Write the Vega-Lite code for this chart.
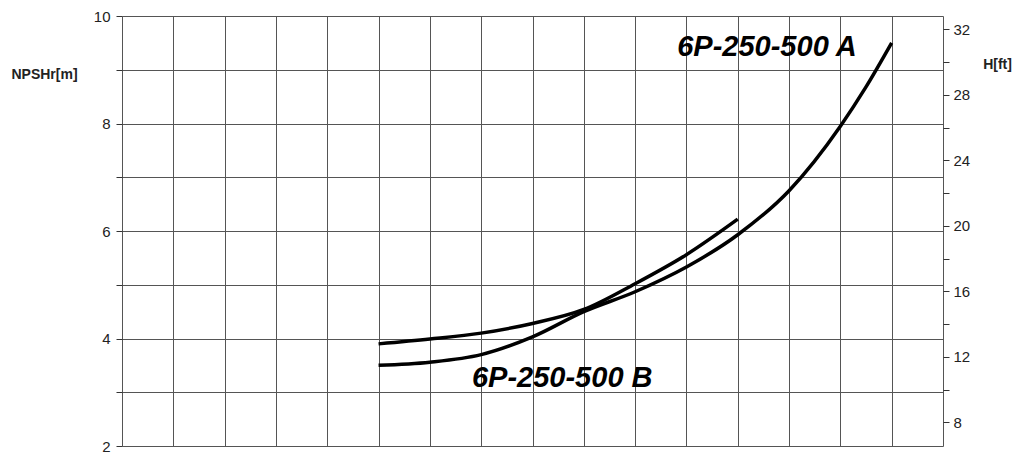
{
  "$schema": "https://vega.github.io/schema/vega-lite/v6.json",
  "width": 821,
  "height": 430,
  "autosize": {"type": "none"},
  "padding": {"left": 122, "top": 16, "right": 73, "bottom": 6},
  "background": "white",
  "config": {
    "view": {"stroke": null},
    "axis": {"labelFont": "Liberation Sans", "titleFont": "Liberation Sans", "labelColor": "#222", "titleColor": "#222"}
  },
  "datasets": {
    "curves": [
      {"curve": "A", "x": 5, "y": 3.5},
      {"curve": "A", "x": 6, "y": 3.56},
      {"curve": "A", "x": 7, "y": 3.7},
      {"curve": "A", "x": 8, "y": 4.03},
      {"curve": "A", "x": 9, "y": 4.5},
      {"curve": "A", "x": 10, "y": 4.87},
      {"curve": "A", "x": 11, "y": 5.33},
      {"curve": "A", "x": 12, "y": 5.93},
      {"curve": "A", "x": 13, "y": 6.75},
      {"curve": "A", "x": 14, "y": 7.95},
      {"curve": "A", "x": 14.5, "y": 8.68},
      {"curve": "A", "x": 15, "y": 9.5},
      {"curve": "B", "x": 5, "y": 3.9},
      {"curve": "B", "x": 6, "y": 3.99},
      {"curve": "B", "x": 7, "y": 4.1},
      {"curve": "B", "x": 8, "y": 4.28},
      {"curve": "B", "x": 9, "y": 4.54},
      {"curve": "B", "x": 10, "y": 5.02},
      {"curve": "B", "x": 11, "y": 5.56},
      {"curve": "B", "x": 12, "y": 6.22}
    ],
    "labels": [
      {"label": "6P-250-500 A", "x": 10.82, "y": 9.42},
      {"label": "6P-250-500 B", "x": 6.82, "y": 3.26}
    ],
    "ft": [{"ft": 8}, {"ft": 32}]
  },
  "layer": [
    {
      "data": {"name": "curves"},
      "mark": {"type": "line", "color": "black", "strokeWidth": 3.5, "interpolate": "monotone"},
      "encoding": {
        "x": {"field": "x", "type": "quantitative", "scale": {"domain": [0, 16], "nice": false},
          "axis": {"values": [0,1,2,3,4,5,6,7,8,9,10,11,12,13,14,15,16], "labels": false, "ticks": false, "domain": false, "title": null, "grid": true, "gridColor": "#555", "gridOpacity": 1, "gridWidth": 1}},
        "y": {"field": "y", "type": "quantitative", "scale": {"domain": [2, 10], "nice": false},
          "axis": {"orient": "left", "values": [2,3,4,5,6,7,8,9,10], "labelExpr": "datum.value % 2 == 0 ? datum.label : ''",
            "grid": true, "gridColor": "#555", "gridOpacity": 1, "gridWidth": 1, "domain": false,
            "tickSize": 6, "tickColor": "#333", "labelFontSize": 15, "labelPadding": 6,
            "title": "NPSHr[m]", "titleAngle": 0, "titleFontSize": 14, "titleFontWeight": "bold",
            "titleAlign": "center", "titleBaseline": "middle", "titleX": -78, "titleY": 58}},
        "detail": {"field": "curve"}
      }
    },
    {
      "data": {"name": "labels"},
      "mark": {"type": "text", "align": "left", "baseline": "middle", "font": "Liberation Sans", "fontSize": 29, "fontWeight": "bold", "fontStyle": "italic", "color": "black"},
      "encoding": {
        "x": {"field": "x", "type": "quantitative"},
        "y": {"field": "y", "type": "quantitative", "scale": {"domain": [2, 10], "nice": false}, "axis": null},
        "text": {"field": "label"}
      }
    },
    {
      "data": {"name": "ft"},
      "mark": {"type": "point", "opacity": 0},
      "encoding": {
        "y": {"field": "ft", "type": "quantitative", "scale": {"domain": [6.5617, 32.8084], "nice": false, "zero": false},
          "axis": {"orient": "right", "values": [8,10,12,14,16,18,20,22,24,26,28,30,32], "labelExpr": "datum.value % 4 == 0 ? datum.label : ''",
            "grid": false, "domain": false, "tickSize": 6, "tickColor": "#333", "labelFontSize": 15, "labelPadding": 4,
            "title": "H[ft]", "titleAngle": 0, "titleFontSize": 14, "titleFontWeight": "bold",
            "titleAlign": "center", "titleBaseline": "middle", "titleX": 54, "titleY": 48}}
      }
    }
  ],
  "resolve": {"scale": {"y": "independent"}, "axis": {"y": "independent"}}
}
